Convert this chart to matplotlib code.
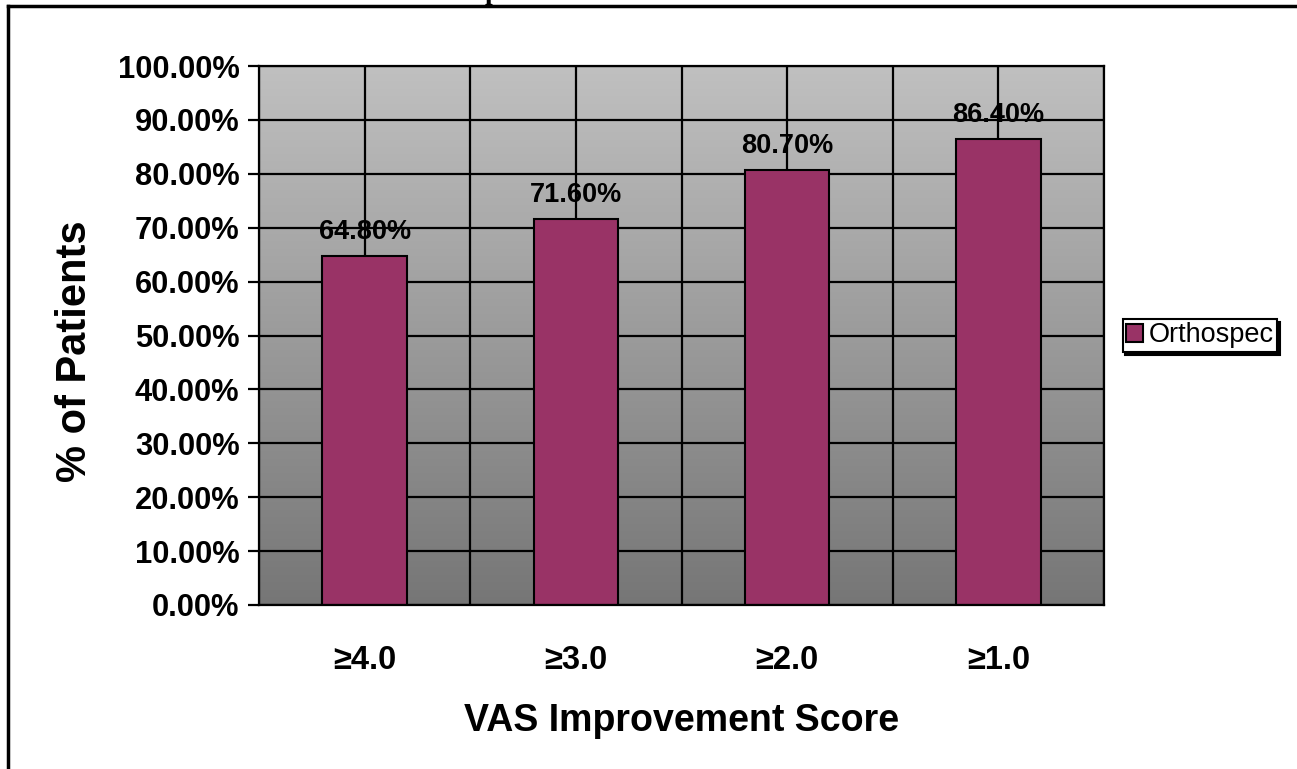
import numpy as np
import matplotlib
matplotlib.use("Agg")
import matplotlib.pyplot as plt
from matplotlib.lines import Line2D

categories = ["≥4.0", "≥3.0", "≥2.0", "≥1.0"]
values = [64.80, 71.60, 80.70, 86.40]
series_name = "Orthospec"
y_ticks = [0, 10, 20, 30, 40, 50, 60, 70, 80, 90, 100]

W, H = 1297, 769
fig = plt.figure(figsize=(W / 100, H / 100), dpi=100)
fig.patch.set_facecolor("white")
plt.rcParams['font.family'] = ['Liberation Sans', 'DejaVu Sans']

ax = fig.add_axes([259 / W, 1 - 605 / H, (1104 - 259) / W, (605 - 66) / H])

x = np.arange(len(categories))
ax.set_xlim(-0.5, len(categories) - 0.5)
ax.set_ylim(0, 100)

# gradient background
grad = np.linspace(0, 1, 256).reshape(-1, 1)
top_c = np.array([192, 192, 192]) / 255
bot_c = np.array([118, 118, 118]) / 255
img = bot_c[None, None, :] * (1 - grad[:, :, None]) + top_c[None, None, :] * grad[:, :, None]
ax.imshow(img, extent=[-0.5, len(categories) - 0.5, 0, 100], aspect="auto",
          origin="lower", zorder=0)

# gridlines
for yv in y_ticks:
    ax.axhline(yv, color="black", lw=1.6, zorder=1)
for xv in np.arange(-0.5, len(categories), 0.5):
    ax.axvline(xv, color="black", lw=1.6, zorder=1)

bars = ax.bar(x, values, width=0.4, color="#993366", edgecolor="black",
              linewidth=1.5, zorder=2, label=series_name)

for xi, v in zip(x, values):
    ax.annotate(f"{v:.2f}%", (xi, v), xytext=(0, 8), textcoords="offset points",
                ha="center", va="bottom", fontsize=19.5, fontweight="bold", zorder=3)

ax.set_yticks(y_ticks)
ax.set_yticklabels([f"{t:.2f}%" for t in y_ticks], fontsize=22.2, fontweight="bold")
ax.set_xticks(x)
ax.set_xticklabels(categories, fontsize=23.5, fontweight="bold")
ax.tick_params(axis="y", direction="out", length=8, width=1.6, pad=6, colors="black")
ax.tick_params(axis="x", length=0, pad=29)
for s in ax.spines.values():
    s.set_color("black")
    s.set_linewidth(1.6)
    s.set_zorder(4)

ax.set_ylabel("% of Patients", fontsize=30, fontweight="bold", labelpad=16, y=0.47)
ax.set_xlabel("VAS Improvement Score", fontsize=27, fontweight="bold", labelpad=19)

leg = ax.legend(loc="center left", bbox_to_anchor=(1.022, 0.5), fontsize=19.5,
                frameon=True, fancybox=False, shadow={"color": "black", "alpha": 1.0},
                handlelength=0.65, handleheight=0.65, handletextpad=0.2,
                borderpad=0.12, borderaxespad=0)
leg.get_frame().set_edgecolor("black")
leg.get_frame().set_linewidth(1.5)

# outer chart border (top and left visible)
fig.add_artist(Line2D([8 / W, 8 / W], [0, 1 - 6 / H], transform=fig.transFigure,
                      color="black", lw=2.5))
fig.add_artist(Line2D([8 / W, 1], [1 - 6 / H, 1 - 6 / H], transform=fig.transFigure,
                      color="black", lw=2.5))

# cut-off title fragment (the reference shows only its descender)
fig.text(492 / W, 1 + 1 / H, "p", fontfamily="Liberation Serif", fontweight="bold",
         fontsize=20, ha="center", va="baseline")

fig.savefig("out.png", dpi=100)
